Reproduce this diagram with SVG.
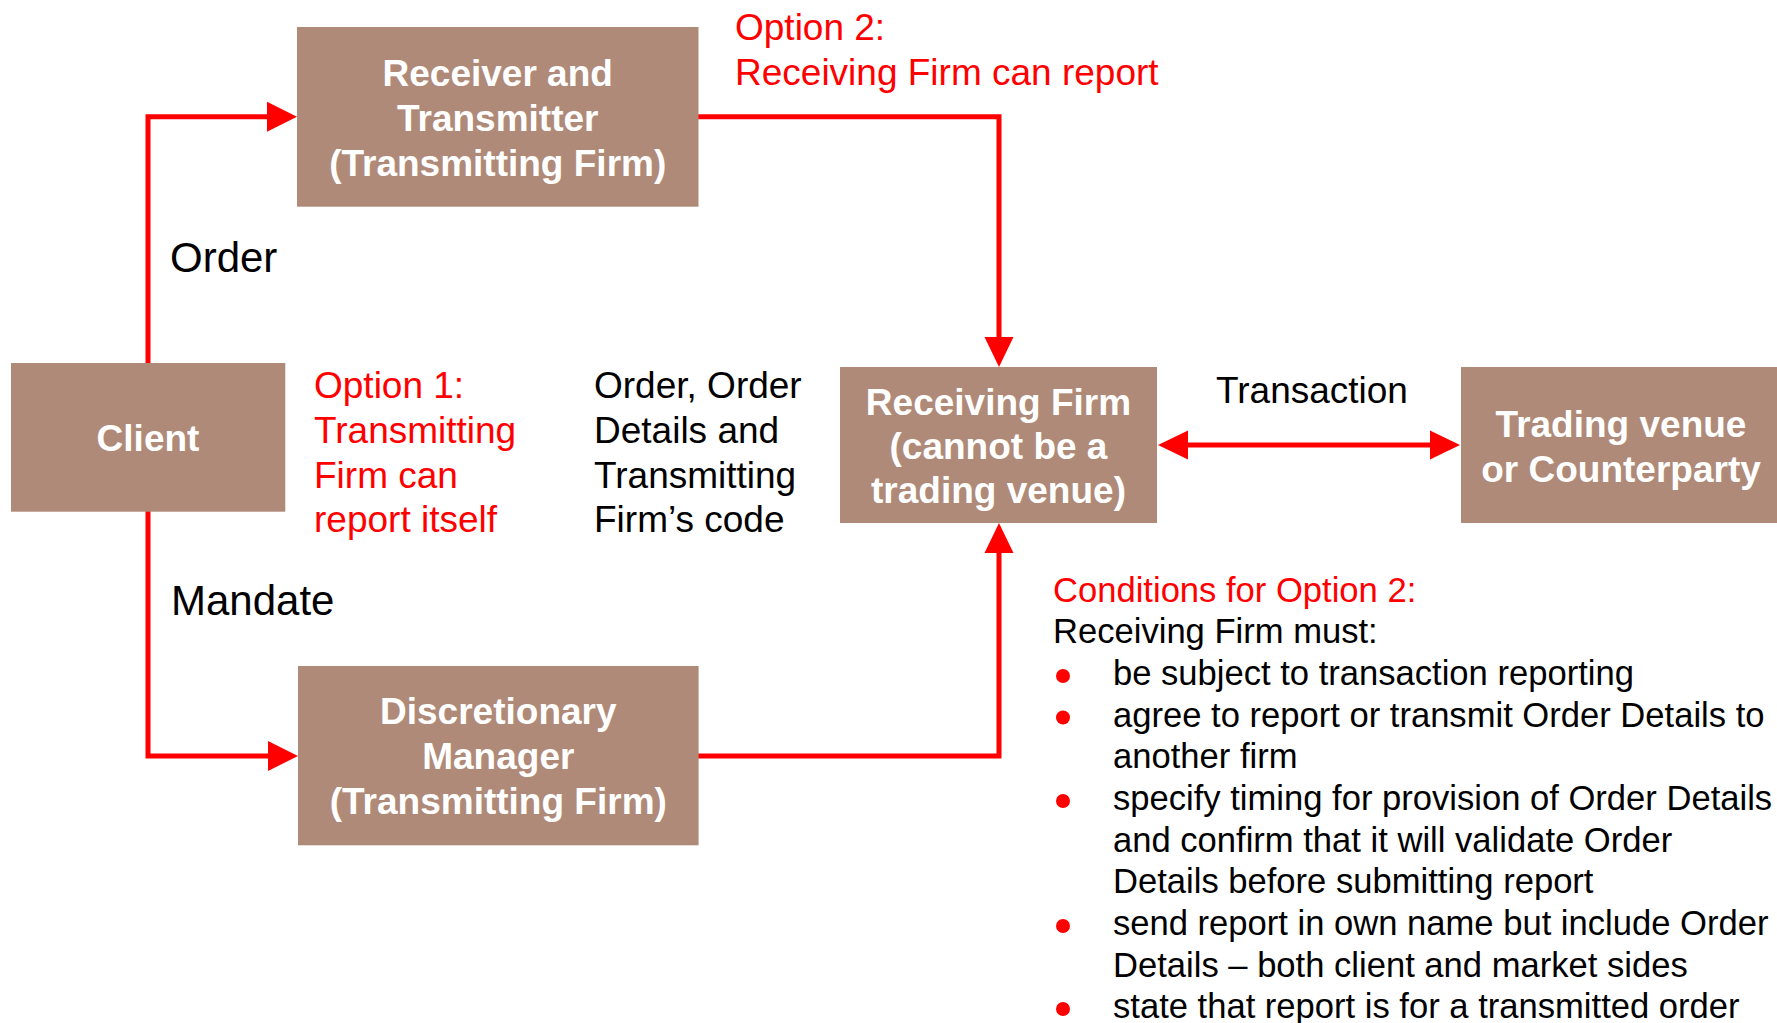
<svg xmlns="http://www.w3.org/2000/svg" width="1777" height="1023" viewBox="0 0 1777 1023">
<style>
.box{fill:#B08A78}
.bt{font-family:"Liberation Sans",Arial,sans-serif;font-weight:bold;font-size:37px;fill:#FFFFFF;text-anchor:middle}
.red{font-family:"Liberation Sans",Arial,sans-serif;font-size:37px;fill:#FF0000}
.blk{font-family:"Liberation Sans",Arial,sans-serif;font-size:37px;fill:#000000}
.lbl{font-family:"Liberation Sans",Arial,sans-serif;font-size:42px;fill:#000000}
.cond{font-family:"Liberation Sans",Arial,sans-serif;font-size:34.6px;fill:#000000}
.ln{fill:none;stroke:#FF0000;stroke-width:5;stroke-linejoin:miter}
.ah{fill:#FF0000}
.bul{fill:#FF0000}
</style>
<rect width="1777" height="1023" fill="#FFFFFF"/>
<g id="connectors">
  <path class="ln" d="M148,363 V116.7 H270"/>
  <polygon class="ah" points="297,116.7 267,101.7 267,131.7"/>
  <path class="ln" d="M148,511 V756 H270"/>
  <polygon class="ah" points="298,756 268,741 268,771"/>
  <path class="ln" d="M698,116.7 H999 V340"/>
  <polygon class="ah" points="999,367 984.5,337 1013.5,337"/>
  <path class="ln" d="M698,756 H999 V550"/>
  <polygon class="ah" points="999,523 984.5,553 1013.5,553"/>
  <path class="ln" d="M1185,445 H1433"/>
  <polygon class="ah" points="1158,445 1188,430.5 1188,459.5"/>
  <polygon class="ah" points="1460,445 1430,430.5 1430,459.5"/>
</g>
<g id="node-receiver">
  <rect class="box" x="297" y="27" width="401.5" height="179.7"/>
  <text class="bt" x="497.7" y="86">Receiver and</text>
  <text class="bt" x="497.7" y="131">Transmitter</text>
  <text class="bt" x="497.7" y="176">(Transmitting Firm)</text>
</g>
<g id="node-client">
  <rect class="box" x="11" y="363" width="274.3" height="148.7"/>
  <text class="bt" x="148" y="451">Client</text>
</g>
<g id="node-discretionary">
  <rect class="box" x="298" y="666" width="400.6" height="179.3"/>
  <text class="bt" x="498.3" y="724">Discretionary</text>
  <text class="bt" x="498.3" y="769">Manager</text>
  <text class="bt" x="498.3" y="814">(Transmitting Firm)</text>
</g>
<g id="node-receiving">
  <rect class="box" x="840" y="367" width="317" height="156"/>
  <text class="bt" x="998.5" y="415">Receiving Firm</text>
  <text class="bt" x="998.5" y="459">(cannot be a</text>
  <text class="bt" x="998.5" y="503">trading venue)</text>
</g>
<g id="node-venue">
  <rect class="box" x="1461" y="367" width="330" height="156"/>
  <text class="bt" x="1621" y="437">Trading venue</text>
  <text class="bt" x="1621" y="482">or Counterparty</text>
</g>
<g id="labels">
  <text class="lbl" x="170" y="272">Order</text>
  <text class="lbl" x="171" y="615">Mandate</text>
  <text class="red" x="735" y="40">Option 2:</text>
  <text class="red" x="735" y="85">Receiving Firm can report</text>
  <text class="red" x="314" y="398">Option 1:</text>
  <text class="red" x="314" y="443">Transmitting</text>
  <text class="red" x="314" y="488">Firm can</text>
  <text class="red" x="314" y="532">report itself</text>
  <text class="blk" x="594" y="398">Order, Order</text>
  <text class="blk" x="594" y="443">Details and</text>
  <text class="blk" x="594" y="488">Transmitting</text>
  <text class="blk" x="594" y="532">Firm’s code</text>
  <text class="blk" x="1216" y="403">Transaction</text>
</g>
<g id="conditions">
  <text class="cond" x="1053" y="602" style="fill:#FF0000">Conditions for Option 2:</text>
  <text class="cond" x="1053" y="643">Receiving Firm must:</text>
  <circle class="bul" cx="1063" cy="676" r="7"/>
  <text class="cond" x="1113" y="685">be subject to transaction reporting</text>
  <circle class="bul" cx="1063" cy="717.5" r="7"/>
  <text class="cond" x="1113" y="726.7">agree to report or transmit Order Details to</text>
  <text class="cond" x="1113" y="768">another firm</text>
  <circle class="bul" cx="1063" cy="801" r="7"/>
  <text class="cond" x="1113" y="810">specify timing for provision of Order Details</text>
  <text class="cond" x="1113" y="851.7">and confirm that it will validate Order</text>
  <text class="cond" x="1113" y="893">Details before submitting report</text>
  <circle class="bul" cx="1063" cy="926" r="7"/>
  <text class="cond" x="1113" y="935">send report in own name but include Order</text>
  <text class="cond" x="1113" y="976.7">Details – both client and market sides</text>
  <circle class="bul" cx="1063" cy="1009" r="7"/>
  <text class="cond" x="1113" y="1018">state that report is for a transmitted order</text>
</g>
</svg>
